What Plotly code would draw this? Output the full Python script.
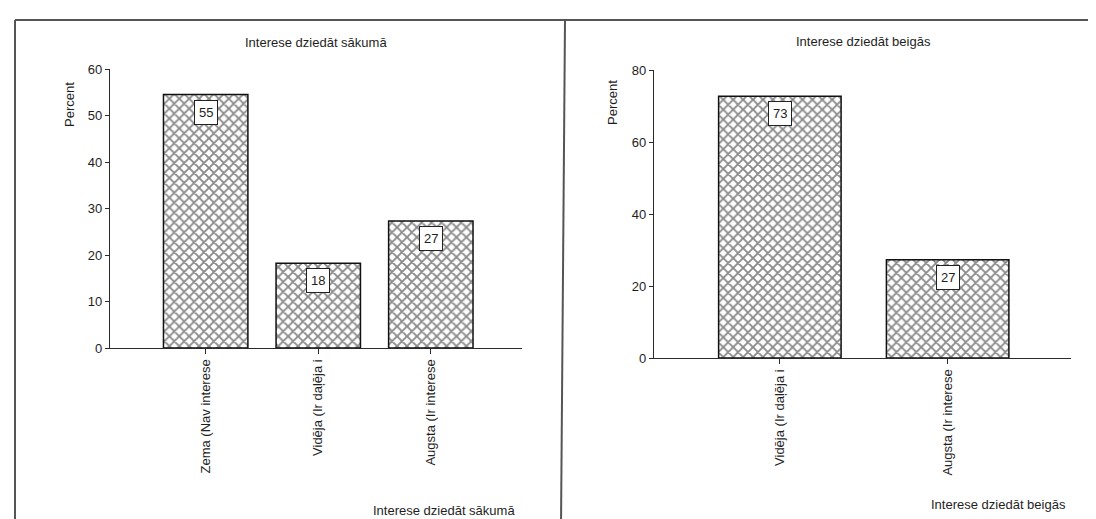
import plotly.graph_objects as go

# ---- data ----
cats_start = ["Zema (Nav interese", "Vidēja (Ir daļēja i", "Augsta (Ir interese"]
vals_start = [54.5, 18.2, 27.3]
cats_end = ["Vidēja (Ir daļēja i", "Augsta (Ir interese"]
vals_end = [72.7, 27.3]
title_start = "Interese dziedāt sākumā"
title_end = "Interese dziedāt beigās"
ytitle = "Percent"
yticks_start = [0, 10, 20, 30, 40, 50, 60]
yticks_end = [0, 20, 40, 60, 80]

W, H = 1096, 519
FONT = "Arial, Liberation Sans, sans-serif"
TXT = "#1e1e1e"
LINE = "#2a2a2a"
FS = 13

def px(x):
    return x / W

def py(y):
    return 1 - y / H

def lab(v):
    return str(int(v + 0.5))

pattern = dict(shape="x", fgcolor="#111111", bgcolor="white", size=7, solidity=0.45)

fig = go.Figure()
fig.add_trace(go.Bar(x=cats_start, y=vals_start, xaxis="x", yaxis="y", width=0.75,
                     marker=dict(color="white", pattern=pattern,
                                 line=dict(color="#111111", width=1.5)),
                     showlegend=False, hoverinfo="skip"))
fig.add_trace(go.Bar(x=cats_end, y=vals_end, xaxis="x2", yaxis="y2", width=0.73,
                     marker=dict(color="white", pattern=pattern,
                                 line=dict(color="#111111", width=1.5)),
                     showlegend=False, hoverinfo="skip"))

xcommon = dict(type="category", showline=True, linecolor=LINE, linewidth=1.3,
               ticks="outside", ticklen=5, tickcolor=LINE, tickwidth=1,
               tickangle=-90, showgrid=False, zeroline=False, automargin=False,
               tickfont=dict(family=FONT, size=FS, color=TXT), fixedrange=True)
ycommon = dict(showline=True, linecolor=LINE, linewidth=1.3,
               ticks="outside", ticklen=4, tickcolor=LINE, tickwidth=1,
               showgrid=False, zeroline=False, automargin=False,
               tickfont=dict(family=FONT, size=FS, color=TXT), fixedrange=True)

fig.update_layout(
    width=W, height=H,
    margin=dict(l=0, r=0, t=0, b=0),
    paper_bgcolor="white", plot_bgcolor="white",
    font=dict(family=FONT, size=FS, color=TXT),
    xaxis=dict(**xcommon, domain=[px(102), px(514)], range=[-0.85, 2.81], anchor="y"),
    yaxis=dict(**ycommon, domain=[py(340), py(61)], range=[0, 60], tickvals=yticks_start, anchor="x"),
    xaxis2=dict(**xcommon, domain=[px(646), px(1063)], range=[-0.75, 1.735], anchor="y2"),
    yaxis2=dict(**ycommon, domain=[py(350), py(62)], range=[0, 80], tickvals=yticks_end, anchor="x2"),
)

ann = []
# value labels
for c, v in zip(cats_start, vals_start):
    ann.append(dict(x=c, y=v, xref="x", yref="y", text=lab(v), showarrow=False,
                    yanchor="top", yshift=-5, bgcolor="white", bordercolor="#222",
                    borderwidth=1, borderpad=4, font=dict(family=FONT, size=FS, color=TXT)))
for c, v in zip(cats_end, vals_end):
    ann.append(dict(x=c, y=v, xref="x2", yref="y2", text=lab(v), showarrow=False,
                    yanchor="top", yshift=-5, bgcolor="white", bordercolor="#222",
                    borderwidth=1, borderpad=4, font=dict(family=FONT, size=FS, color=TXT)))
# titles
ann.append(dict(x=px(308), y=py(35), xref="paper", yref="paper", text=title_start,
                showarrow=False, xanchor="center", yanchor="middle"))
ann.append(dict(x=px(855), y=py(33), xref="paper", yref="paper", text=title_end,
                showarrow=False, xanchor="center", yanchor="middle"))
# y titles
ann.append(dict(x=px(61), y=py(97), xref="paper", yref="paper", text=ytitle, textangle=-90,
                showarrow=False, xanchor="center", yanchor="middle"))
ann.append(dict(x=px(604), y=py(95), xref="paper", yref="paper", text=ytitle, textangle=-90,
                showarrow=False, xanchor="center", yanchor="middle"))
# x titles
ann.append(dict(x=px(509), y=py(502), xref="paper", yref="paper", text=title_start,
                showarrow=False, xanchor="right", yanchor="middle"))
ann.append(dict(x=px(1060), y=py(496), xref="paper", yref="paper", text=title_end,
                showarrow=False, xanchor="right", yanchor="middle"))
fig.update_layout(annotations=ann)

# panel frames
shapes = [
    dict(type="line", xref="paper", yref="paper", x0=px(7), x1=1, y0=py(12), y1=py(12),
         line=dict(color="#555", width=2)),
    dict(type="line", xref="paper", yref="paper", x0=px(7), x1=px(7), y0=0, y1=py(12),
         line=dict(color="#555", width=2)),
    dict(type="line", xref="paper", yref="paper", x0=px(557), x1=px(553), y0=py(12), y1=0,
         line=dict(color="#555", width=2)),
]
fig.update_layout(shapes=shapes)

fig.write_html("out.html")
